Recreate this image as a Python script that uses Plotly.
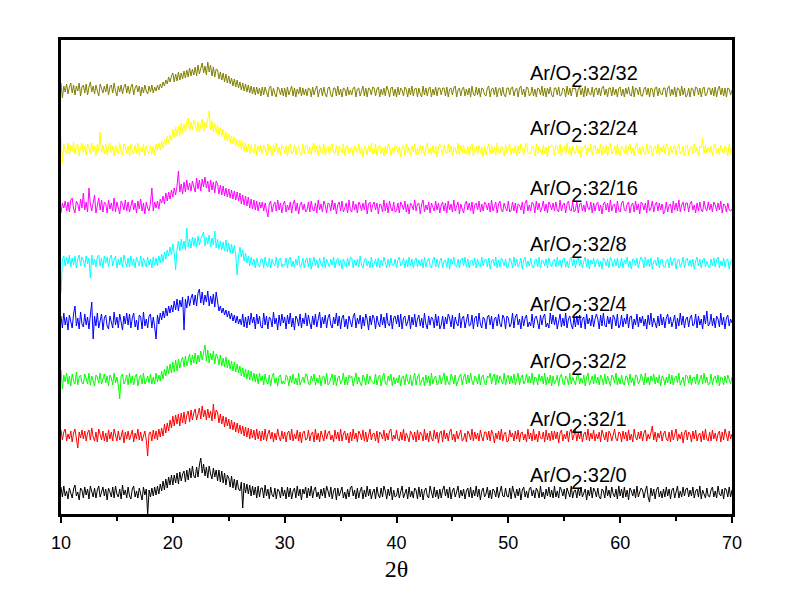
import plotly.graph_objects as go

# 2-theta sampling grid (degrees): 0.125 deg steps from 10 to 70
theta_start, theta_step, n_points = 10.0, 0.125, 481
two_theta = [round(theta_start + theta_step * i, 3) for i in range(n_points)]

labels = ["Ar/O2:32/0", "Ar/O2:32/1", "Ar/O2:32/2", "Ar/O2:32/4",
          "Ar/O2:32/8", "Ar/O2:32/16", "Ar/O2:32/24", "Ar/O2:32/32"]
colors = ["#000000", "#FF0000", "#00FF00", "#0000FF",
          "#00FFFF", "#FF00FF", "#FFFF00", "#808000"]
# vertical stacking offsets (a.u.)
offsets = [21, 78, 134, 193, 251, 307, 364, 422]

i_32_0 = [
    6, -4, 7, -3, 2, -6, 5, -1, -5, 4, 8, -3, 1, -7, 5, 3,
    -5, 6, -2, 4, -6, 7, 2, -4, 5, -5, 3, 7, -4, 0, 6, -3,
    4, -7, 5, 1, -4, 6, -5, 7, -1, -4, 4, -6, 8, -2, 3, -5,
    6, -3, -6, 4, 7, -4, 2, -5, 5, -1, -7, 6, -2, 4, -22, 3,
    -4, 5, -3, 6, -2, 7, -1, 9, 2, 12, 3, 14, 5, 16, 8, 18,
    8, 18, 10, 20, 9, 21, 12, 19, 22, 11, 23, 13, 25, 15, 27, 17,
    15, 26, 16, 28, 35, 20, 29, 17, 26, 15, 27, 19, 14, 25, 16, 23,
    12, 23, 11, 22, 10, 20, 8, 18, 15, 6, 17, 5, 14, 3, 13, 4,
    2, 11, -15, 10, 0, 9, -1, 8, -3, 7, -2, 6, -5, 7, -4, 5,
    5, -5, 8, -3, 4, -6, 6, -2, -4, 5, -6, 4, 2, -5, 6, -3,
    3, -6, 6, -4, 5, -6, 2, 5, -5, 7, -3, 4, -7, 4, -1, 6,
    -5, 5, -3, 7, -5, 3, 6, -4, 1, -6, 4, -3, 5, -5, 7, 2,
    -4, 6, -6, 2, 5, -7, 5, -3, 3, 6, -5, 1, -6, 4, -4, 5,
    7, -3, 3, -6, 5, -5, 2, 6, -6, 3, -4, 7, -3, 4, -6, 1,
    4, -6, 6, -2, -5, 5, -4, 7, 2, -6, 4, -3, 6, -7, 3, -4,
    -3, 5, -5, 3, 7, -5, -1, 4, -6, 6, -4, 2, -5, 5, 3, -6,
    6, -4, 4, -7, 2, 5, -3, -5, 7, -1, -5, 6, -4, 3, -6, 4,
    -5, 3, 7, -3, 4, -5, 6, -6, 2, 5, -4, 1, 7, -5, 3, -3,
    4, -6, 2, 5, -4, 6, -5, 3, -3, 7, -4, 4, -7, 2, 5, -4,
    -1, 6, -5, 3, -6, 4, 2, -4, 6, -5, 3, 7, -3, -4, 5, -3,
    -4, 5, -6, 7, 1, -5, 4, -3, 5, -7, 3, 6, -4, 2, -5, 4,
    6, -3, 3, -5, 5, 2, -5, 7, -4, 1, -6, 4, -3, 6, -4, 3,
    -5, 7, -4, 2, -5, 6, 3, -3, 4, -6, 5, -1, -4, 7, -5, 2,
    3, -5, 5, -3, 6, -4, 1, 4, -7, 3, -3, 6, -5, 5, 2, -4,
    5, -4, -6, 4, 2, -5, 7, -3, 3, -5, 6, -1, -4, 4, -6, 7,
    -3, 4, -5, 6, -4, 3, -7, 5, 2, -3, 4, -5, 7, -4, 1, 5,
    3, -5, 2, 7, -4, -9, 5, -3, 4, -6, 3, 6, -4, 2, -5, 4,
    -4, 6, -3, 4, -6, 3, 5, -5, 1, 7, -5, 2, -4, 6, -3, 4,
    5, -4, 3, -3, 6, -5, 2, 4, -4, 7, -6, 3, -1, -5, 5, -3,
    -4, 3, 6, -4, 2, -5, 7, -1, -3, 4, -6, 5, 3, -4, 6, -4,
    3]

i_32_1 = [
    6, -4, 4, 7, -5, 2, -3, 5, -6, 3, 7, -4, -12, 4, -2, 6,
    -3, 5, -5, 3, 6, -4, 8, -1, -5, 4, -6, 7, 2, -4, 5, -5,
    3, -6, 6, -3, 4, -5, 7, 2, -5, 5, -4, -1, 6, -7, 4, -3,
    5, -4, 2, 6, -6, 3, -3, 7, -4, 4, -5, -1, 5, -4, -20, 3,
    4, -5, 6, -3, 5, -4, 7, -1, 8, 0, 12, 3, 13, 5, 16, 8,
    20, 10, 21, 12, 22, 10, 23, 13, 24, 12, 21, 25, 14, 26, 16, 23,
    27, 16, 24, 28, 17, 30, 19, 26, 16, 27, 18, 25, 15, 32, 17, 26,
    24, 13, 22, 12, 20, 9, 19, 10, 17, 7, 16, 6, 14, 4, 13, 3,
    11, 2, 10, 0, 9, -1, 8, -3, 7, -2, 6, -4, 7, -3, 5, -5,
    5, -4, 7, -5, 2, 6, -3, 4, -6, 3, -4, 7, -1, -5, 5, -3,
    4, -6, 3, 5, -4, 7, -5, 2, -3, 6, -5, 4, -7, 3, 5, -4,
    -3, 6, -5, 2, 4, -6, 7, -4, 3, -6, 5, -1, -5, 6, -3, 3,
    5, -4, 1, -6, 6, -3, 4, -5, 7, -5, 2, 5, -4, 3, -7, 4,
    -5, 7, -3, 3, -6, 5, 2, -4, 6, -5, 4, -6, 1, 7, -4, 2,
    3, -5, 5, -7, 4, 2, -3, 6, -5, 3, -4, 5, 7, -5, 1, -3,
    6, -3, -5, 4, -4, 7, -5, 3, -1, -6, 5, 2, -4, 4, -6, 6,
    -4, 4, 2, -5, 7, -4, 3, -6, 5, -2, -5, 6, -3, 4, -7, 3,
    5, -6, 6, -3, 3, -5, 4, 7, -4, 2, -6, 5, -3, 3, 6, -5,
    -3, 3, -6, 5, 2, -4, 7, -5, 4, -3, 3, -5, 6, -1, -5, 4,
    4, -4, 5, -5, 6, 2, -7, 3, -3, 5, -4, 7, -5, 2, 4, -6,
    -5, 6, -1, 3, -5, 5, -3, 6, -6, 3, 4, -4, 2, -6, 7, -3,
    3, -5, 7, -4, 2, -6, 5, -2, -3, 4, -6, 6, -4, 3, -5, 5,
    -4, 5, -3, 4, -7, 3, 6, -5, 2, -3, 5, -6, 4, 7, -4, 1,
    6, -5, 3, -3, 5, -6, 2, 4, -4, 7, -5, 3, -3, 6, -5, 2,
    -3, 4, -6, 6, 1, -4, 4, -6, 5, 2, -5, 3, 7, -3, -5, 4,
    3, -6, 5, -3, 4, -5, 6, -4, 2, -6, 7, -1, -4, 4, -3, 5,
    -5, 3, 6, -5, 2, -3, 5, 10, -4, 4, -6, 3, -2, 5, -5, 2,
    5, -3, -5, 4, -6, 6, -4, 3, 7, -5, 2, -3, 4, -7, 3, 6,
    -4, 4, 2, -6, 5, -3, 6, -5, 1, 3, -6, 5, -4, 7, -3, -5,
    4, -5, 6, -3, 3, -5, 2, 5, -6, 4, -4, 7, -1, -5, 5, -3,
    2]

i_32_2 = [
    10, -9, 5, -2, 7, -4, 4, -6, 6, -1, -4, 8, -5, 3, 5, -3,
    -4, 6, 2, -4, 7, -5, 4, -2, -6, 5, 3, -3, 7, -4, 2, 6,
    -3, 4, -6, 5, 2, -5, 7, -3, 3, -5, -19, 4, 6, -4, -1, 5,
    -5, 7, -3, 4, -5, 3, 6, -6, 2, 5, -4, 7, -4, -1, 4, -3,
    6, -4, 3, -4, 7, -2, 5, -1, 9, 1, 11, 4, 14, 6, 16, 7,
    18, 8, 20, 9, 21, 12, 19, 23, 13, 24, 14, 22, 26, 15, 25, 17,
    27, 16, 25, 18, 29, 20, 28, 35, 19, 30, 17, 27, 20, 29, 16, 26,
    23, 15, 25, 14, 22, 13, 23, 12, 20, 11, 19, 9, 18, 8, 16, 7,
    14, 4, 12, 3, 11, 1, 10, 0, 9, -1, 7, -2, 6, -4, 7, -1,
    4, -5, 6, -2, -4, 5, -6, 3, 7, -3, 2, -6, 4, 5, -4, -1,
    -4, 5, 3, -6, 4, -3, 6, -4, 2, -5, 7, -5, -1, 3, -3, 6,
    5, -4, -5, 4, -1, 6, -5, 2, -3, 5, -6, 3, 4, -4, 7, -5,
    -3, 3, 6, -5, 5, -6, 2, 4, -4, -1, 7, -5, 3, -5, 5, 2,
    4, -6, 2, 7, -4, 3, -3, -6, 5, 2, -5, 6, -4, 4, -1, -3,
    -4, 6, -5, 2, 5, -6, 3, 7, -3, -5, 4, -1, 6, -6, 3, -4,
    2, -3, 5, -6, 3, 4, -5, 6, -1, -4, 5, -6, 2, 7, -5, 3,
    6, -5, -1, 3, -6, 5, -3, 4, -6, 7, -4, 2, 4, -5, -3, 5,
    -4, 2, 7, -5, 4, -3, -5, 6, 3, -4, 5, -6, -1, 4, 6, -5,
    3, 6, -4, 5, -3, 7, -1, -5, 4, 2, -4, 6, -5, 3, 5, -3,
    -5, 4, 2, 7, -4, 3, 6, -5, 5, -3, 4, -1, -4, 7, -5, 2,
    5, -4, 4, -3, 6, -5, 3, 7, -5, 2, 5, -4, -1, 6, -3, 4,
    -3, 7, -5, 3, 2, -5, 6, -1, 4, -4, 7, -5, 3, -3, 5, -6,
    4, -4, -1, 5, -6, 3, 6, -3, -5, 4, 2, -5, 7, -4, 3, -1,
    -5, 4, 6, -4, 2, -3, 5, -6, 3, 7, -5, -1, 4, -4, 6, -3,
    3, -5, 5, 2, -5, 6, -4, 4, -1, -6, 5, 3, -3, 7, -5, 2,
    -4, 5, -3, -5, 4, 3, -5, 6, -3, 2, -6, 5, 4, -4, -1, 6,
    2, -5, 7, -3, 3, -5, 4, -1, 6, -4, 3, -3, 5, -6, 4, 2,
    -5, 3, -3, 6, -4, 5, -5, 2, 4, -3, 7, -5, -1, 3, -6, 5,
    4, -3, 5, -5, 2, 3, -4, 6, -5, -1, 5, -4, 7, -3, 3, -5,
    -4, 6, -5, 2, 4, -3, 5, -6, 3, 2, -5, 4, -3, 5, -1, -4,
    3]

i_32_4 = [
    5, -7, 8, -4, 4, -9, 6, -1, -7, 7, 15, -5, 3, -8, 9, -3,
    -6, 7, -4, 4, -8, 6, 19, -18, 5, -5, 8, -7, 2, 7, -9, 3,
    6, -5, -8, 5, -1, -7, 9, -4, 4, -7, 7, -2, -9, 5, -3, 8,
    -4, 7, -7, 3, 8, -6, 1, -9, 6, 4, -8, 9, -5, 2, -7, 5,
    7, -7, 4, -6, -18, 6, -3, 8, 1, 10, 3, 13, 5, 15, 8, 16,
    9, 20, 11, 22, 10, 21, 14, 24, -9, 22, 13, 25, 15, 23, 27, 16,
    26, 15, 28, 32, 18, 29, 16, 26, 19, 30, 15, 25, 17, 27, 14, 29,
    18, 10, 15, 8, 13, 6, 11, 4, 10, 2, 8, 0, 6, -2, 5, -3,
    2, -4, 7, -6, 4, -7, 5, -4, 8, -2, 4, -8, 7, -3, 5, -6,
    -7, 8, -4, 5, -8, 4, 2, -6, 9, -3, 3, -9, 6, -5, 7, -2,
    4, -8, 6, -3, 8, -6, 3, -9, 5, 2, -5, 7, -7, 3, -3, 8,
    -5, 6, -2, -8, 5, -4, 7, -6, 2, 9, -7, 4, -3, 6, -7, 3,
    7, -4, -7, 4, -3, 8, -5, 5, -8, 3, 6, -6, 2, -8, 5, -2,
    -6, 4, 8, -7, 3, -3, 6, -8, 4, -5, 7, 2, -9, 5, -4, 6,
    3, -8, 5, -2, -6, 7, -4, 4, -7, 8, -3, -5, 6, -8, 3, 5,
    -3, 6, -6, 7, -8, 3, 5, -5, -1, 6, -8, 4, -4, 7, -6, 2,
    6, -5, 3, -7, 8, -3, -8, 5, -4, 4, 2, -7, 7, -5, 5, -8,
    -4, 5, -8, 4, -3, 7, 3, -6, 6, -8, 4, -2, -5, 8, -7, 3,
    5, -7, 2, 7, -5, -4, 6, -8, 3, 5, -6, 8, -3, -7, 4, 2,
    -8, 4, 6, -4, 5, -8, 2, 4, -5, 7, -3, -6, 6, 3, -8, 5,
    3, -6, -3, 8, -7, 4, 7, -4, 2, -8, 5, -5, 3, 6, -6, -1,
    -5, 7, -7, 3, 5, -3, -8, 6, -4, 4, 7, -6, -2, -7, 8, -3,
    6, -4, 4, -8, 2, 7, -6, 3, -5, 8, -7, 2, 5, -4, -8, 4,
    -6, 5, -4, 6, -7, 2, 4, -8, 7, -3, 3, -5, 6, -6, 2, 7,
    2, -8, 6, -5, 8, -4, -6, 5, -3, 4, -8, 6, 3, -5, 7, -7,
    -4, 6, -6, 3, -3, 7, -7, 4, 5, -8, 2, -4, 7, -6, 4, -2,
    5, -5, 2, -8, 6, -4, 8, -6, 3, -3, -7, 5, -5, 7, -4, 4,
    -7, 3, 7, -3, 4, -6, 2, 6, -8, 3, -5, 8, -4, 5, -7, 2,
    4, -6, 3, 6, -5, -3, 7, -7, 5, -4, 2, -8, 6, -3, 10, -5,
    -3, 7, -5, 3, -7, 5, 2, -6, 8, -4, 4, -8, 3, 6, -5, 2,
    -2]

i_32_8 = [
    -30, 4, 7, -3, 6, -1, 8, -4, 5, -2, 7, -5, 4, 8, -3, 6,
    3, -4, 7, -1, 5, -15, 8, -2, 4, -4, 6, 8, -3, 5, -5, 7,
    0, 6, -4, 5, 8, -3, 3, 7, -5, 4, -2, 6, -4, 8, 1, -4,
    5, -4, 7, -2, 4, -5, 6, 1, -3, 7, -4, 5, -1, -4, 6, -2,
    4, -5, 6, -2, 5, -3, 7, 0, 9, 1, 11, 4, 13, 7, 16, 8,
    19, 10, -7, 14, 22, 12, 24, 14, 22, 13, 35, 16, 24, 15, 26, 17,
    25, 16, 27, 18, 24, 28, 31, 17, 26, 19, 28, 16, 25, 18, 32, 15,
    24, 14, 22, 13, 21, 12, 23, 11, 20, 10, 19, 9, 18, 8, -12, 7,
    16, 6, 13, 2, 10, 0, 7, -3, 6, -2, 4, -5, 5, -1, -4, 4,
    4, -5, 6, -2, -4, 5, -5, 4, -1, -3, 6, -5, 3, 5, -4, -1,
    -3, 5, -5, 3, 6, -4, 2, -5, 4, -2, 7, -4, -3, 5, -5, 3,
    5, -4, 5, -6, 2, 6, -3, 3, -5, 5, -1, -4, 6, -5, 4, -1,
    -4, 4, -2, 6, -5, 2, 5, -3, 3, -6, 4, -1, -4, 5, -3, 6,
    5, -5, 3, -3, 4, -4, 7, -2, -5, 3, 5, -3, 2, -5, 6, -4,
    -1, 4, -4, 5, -5, 3, -3, 6, 1, -5, 4, -4, 5, -2, -3, 4,
    -5, 3, 6, -3, -1, 5, -5, 3, -4, 6, -3, 4, -5, 2, 5, -4,
    3, -3, 4, -5, 6, -4, 2, 5, -3, -5, 3, 6, -4, 4, -5, 2,
    5, -5, 2, 3, -4, 5, -6, 4, -1, 6, -3, -4, 4, -5, 3, 5,
    -3, 6, -4, 4, -5, 2, 3, -3, 5, -5, 4, -2, -4, 6, -3, 3,
    4, -4, 5, -6, 2, 4, -3, 6, -5, 3, -4, 5, 2, -3, 4, -5,
    -4, 5, 2, -5, 6, -3, 4, -4, -1, 5, -6, 3, 6, -4, 2, -3,
    5, -3, -5, 3, 4, -4, 6, -5, 3, 2, -3, 4, -5, 5, -1, -4,
    2, 4, -4, 6, -3, 3, -5, 4, 5, -4, 2, -5, 3, 6, -3, 4,
    -5, 3, 5, -3, 3, -5, 2, 6, -4, 4, -6, 3, -1, 5, -4, 2,
    4, -4, 2, -6, 5, 3, -3, 4, -5, 6, 2, -4, 4, -3, 5, -5,
    -3, 5, -5, 3, -1, 6, -4, 2, -6, 4, 3, -3, 5, -5, 2, 6,
    3, -5, 6, -3, 4, -4, 5, -6, 2, 3, -3, 6, -5, 3, 4, -4,
    -4, 2, 4, -5, 6, -3, 3, 5, -6, 2, 4, -4, -1, 6, -5, 3,
    5, -3, 3, -4, 4, -6, 2, 6, -3, 4, -5, 3, 5, -4, 2, -3,
    -5, 4, -3, 5, -4, 3, 6, -5, 2, -3, 5, -4, 3, 4, -6, 2,
    3]

i_32_16 = [
    -6, 4, -1, 6, -4, 5, -5, 7, 9, -2, -6, 6, 3, -4, 8, -1,
    14, -3, 5, -5, 19, 3, -4, 6, 12, -6, 4, 9, -3, 7, -5, 5,
    3, -6, 7, -2, 4, -4, 9, -5, 5, -1, -7, 6, 3, -3, 7, -4,
    5, -5, 2, 7, -3, 4, -6, 6, -2, 8, -4, 4, -7, 5, -1, -4,
    4, 19, -4, 5, -1, 6, -2, 8, 4, 11, 3, 14, 6, 15, 8, 17,
    10, 19, 12, 21, 36, 15, 23, 13, 25, 15, 27, 17, 24, 16, 26, 19,
    15, 29, 18, 27, 16, 28, 20, 30, 19, 26, 15, 27, 17, 25, 14, 26,
    23, 13, 22, 12, 21, 11, 19, 10, 18, 9, 17, 8, 16, 7, 15, 6,
    14, 3, 12, 2, 11, 1, 10, -1, 8, -2, 7, -3, 6, -4, 5, -1,
    5, -4, 4, -3, -10, 3, 6, -5, 2, 5, -4, 7, -3, 4, -6, 3,
    6, -5, 2, -3, 5, -6, 3, 7, -4, 4, -7, 2, 5, -3, 3, -5,
    -3, 5, -5, 6, -2, -4, 4, -6, 7, -3, 3, -5, 6, 2, -6, 4,
    3, -4, 7, -3, 4, -7, 2, 5, -4, 6, -5, -1, 4, -6, 7, -3,
    -5, 6, -3, 3, -6, 5, 2, -4, 4, -3, 7, -7, 3, 5, -5, 2,
    5, -3, 4, -7, 3, 2, -5, 7, -4, 4, -6, 6, -1, -4, 5, -5,
    -4, 4, -6, 5, 2, -3, 6, -5, 3, -7, 4, 2, -3, 7, -4, 3,
    4, -7, 3, 7, -5, 2, -3, 5, -6, 4, -1, -4, 6, -3, 4, -6,
    2, 5, -4, 4, -6, 6, -3, 3, -5, 7, -4, 2, 5, -7, 3, -2,
    -6, 3, 6, -3, 4, -4, 5, -7, 2, 4, -3, 6, -5, 3, -4, 5,
    3, -3, 4, -5, 7, -4, 2, 5, -6, 3, 6, -3, -5, 4, -1, -4,
    6, -5, -3, 5, -4, 4, -6, 3, 2, -3, 5, -7, 4, 7, -4, 2,
    -4, 5, 3, -6, 6, -3, 4, -5, -1, 6, -4, 3, -6, 5, 2, -3,
    4, -4, 5, -3, -5, 7, -4, 2, 4, -6, 3, 6, -3, -4, 5, -5,
    -3, 6, -6, 3, 4, -4, 2, -5, 6, -1, -3, 5, -6, 4, -4, 3,
    5, -4, 2, -7, 3, 5, -3, 4, -5, 7, -4, 2, 3, -6, 6, -3,
    -5, 4, 6, -3, -4, 3, 5, -6, 2, 4, -5, 6, -3, 3, -7, 5,
    3, -3, 4, -6, 7, -4, -1, 6, -5, 2, 5, -4, 4, -3, 3, -7,
    -4, 5, -5, 2, 3, -6, 6, -3, 4, -4, 7, -5, 2, 5, -4, 4,
    4, -5, 3, 6, -3, 2, -6, 4, -4, 5, -3, -5, 6, -1, -4, 5,
    -3, 3, -5, 5, 2, -4, 4, -3, 6, -6, 3, 2, -5, 4, -3, -4,
    -2]

i_32_24 = [
    13, -13, 6, -1, -4, 7, -5, 5, -1, 8, -4, 4, 6, -6, 3, 7,
    -3, 5, -5, 6, 3, -4, 7, -2, 4, -6, 6, -1, 18, -3, 5, -4,
    6, -5, 3, 7, -3, 4, -6, 5, -1, -4, 7, -2, -5, 6, 3, -3,
    4, -6, 6, -1, -4, 5, -3, 7, -5, 3, -2, 6, -6, 4, -1, -4,
    5, -4, 4, -5, 6, -1, 7, 0, 9, 2, 11, 5, 14, 7, 15, 9,
    21, 12, 23, 14, 24, 15, 27, 17, 26, 18, 29, 32, 19, 28, 20, 30,
    26, 19, 28, 18, 25, 31, 18, 28, 22, 33, 39, 20, 29, 18, 27, 17,
    25, 15, 23, 13, 21, 11, 18, 9, 16, 7, 14, 6, 13, 4, 11, 3,
    10, 1, 8, -1, 7, -2, 6, -4, 5, -1, -3, 6, -5, 4, -2, 5,
    -4, 5, 2, -5, 6, -3, 4, -6, 5, -2, 7, -4, 3, -5, 5, 3,
    -3, 4, -6, 3, 6, -4, -2, 5, -5, 3, 4, -3, -6, 6, -4, 4,
    5, -4, 3, -5, 4, 7, -3, 4, -6, 5, -2, -4, 6, -5, 2, 4,
    -5, 3, 6, -3, -4, 5, -6, 4, 2, -3, 6, -5, 3, 5, -4, -1,
    3, -6, 4, 2, -3, 6, -4, 3, -7, 4, 2, -5, 5, -2, 7, -4,
    -3, 6, -5, 3, 5, -4, 2, -6, 4, -3, 6, 3, -5, 2, -4, 5,
    4, -3, 3, -7, 2, 5, -5, 6, -3, 3, -6, 4, -2, 6, -5, 2,
    -4, 5, -3, 4, -6, 3, 7, -4, 2, -5, 5, -3, 4, -7, 3, 6,
    2, -5, 5, -2, -4, 6, -3, 4, -6, 3, 2, -4, 7, -5, 5, -3,
    5, -4, -3, 4, -5, 3, 6, -6, 2, 4, -4, 5, -3, 3, -7, 4,
    -5, 2, 6, -4, 5, -3, 3, -5, 7, -2, -4, 4, 2, -6, 5, -3,
    3, 6, -5, 2, -3, 5, -6, 4, -4, 6, 2, -5, 3, 7, -3, -4,
    -3, 4, 2, -6, 6, -4, 4, -2, -5, 5, -3, 3, -7, 4, 2, 5,
    4, -5, 5, 3, -3, 6, -6, 2, 4, -4, 7, -3, 3, -6, 4, -2,
    -4, 5, -3, 4, -7, 3, 2, 5, -5, 3, -3, 6, -5, 2, 5, -4,
    2, -4, 6, -5, 4, -3, 5, -6, 3, 7, -4, -1, 4, -5, 6, -3,
    -6, 4, 2, -3, 5, -5, 3, 6, -4, 2, -6, 4, 7, -3, 3, -5,
    4, -3, -5, 6, -4, 3, 5, -6, 2, 4, -3, 6, -5, 3, -2, 5,
    -4, 6, 3, -6, 4, -3, 2, 5, -5, 3, 6, -4, -3, 4, -6, 3,
    5, -5, 2, 4, -4, 6, -3, 3, -6, 4, 2, 12, -4, 5, -3, 3,
    -3, 4, -6, 3, 6, -4, 2, -5, 5, -1, -4, 4, 2, -6, 6, -3,
    3]

i_32_32 = [
    9, -6, 6, 0, 8, -2, 5, 9, -1, 7, -3, 6, 1, 9, -4, 5,
    7, -1, 8, -3, 5, 10, 0, 6, -2, 7, 1, -4, 8, 2, -1, 6,
    0, 8, -3, 5, 7, -1, 9, 1, -4, 6, 0, 7, -2, 5, 8, -1,
    6, -2, 5, 8, -3, 4, 7, 0, 6, -4, 5, -1, 7, 1, -2, 6,
    0, 7, -1, 5, 1, 7, 2, 8, 4, 10, 6, 12, 8, 15, 10, 16,
    19, 10, 18, 11, 20, 12, 19, 13, 21, 14, 22, 15, 24, 16, 23, 17,
    25, 16, 27, 18, 24, 29, 19, 26, 17, 30, 20, 27, 16, 25, 15, 23,
    22, 13, 20, 12, 19, 10, 18, 9, 16, 8, 14, 6, 13, 5, 12, 4,
    10, 2, 9, 1, 8, 0, 7, -1, 6, -2, 5, -3, 5, -2, 4, -4,
    5, -3, 5, -1, -5, 4, 6, -4, 4, -2, -5, 5, 3, -3, 4, -4,
    4, -5, 5, -3, 3, 6, -4, 4, -5, 3, -2, 5, -4, 4, -3, 3,
    -4, 4, 3, -5, 5, -3, 3, 6, -5, 2, 4, -4, 5, -2, -5, 4,
    5, -3, -5, 4, 4, -4, 6, -3, 3, -5, 4, 3, -4, 5, -3, 2,
    -3, 4, 5, -5, 3, 4, -4, 2, 6, -4, 4, -5, 4, 3, -3, 5,
    4, -4, 3, 5, -5, 3, -3, 4, -4, 6, 2, -5, 4, 5, -4, 3,
    -5, 5, -3, 4, 2, -4, 5, 3, -5, 4, -3, 6, -4, 3, 4, -5,
    4, -2, -5, 6, -3, 4, -4, 3, 5, -5, 3, -3, 5, -4, 4, 4,
    -3, 4, 4, -4, 5, -5, 3, 4, -3, 4, 6, -5, 2, 4, -4, 3,
    5, -4, 3, -3, 4, -5, 6, -2, -4, 5, -3, 4, -5, 4, 3, -3,
    -4, 4, 6, -5, 3, 4, -3, 5, -5, 3, 4, -4, 5, -3, -5, 4,
    4, -3, 4, 5, -4, 2, 4, -5, 4, 6, -3, 3, -5, 5, 4, -4,
    -2, 5, -4, 3, -5, 4, 3, -3, 6, -4, 4, -5, 4, -2, 5, -3,
    -5, 4, 4, -3, 5, -4, -3, 4, 3, -5, 6, -3, 4, -4, 4, 3,
    4, -5, 3, 5, -3, 4, -5, 6, -4, 4, -2, -3, 5, -5, 3, 4,
    -3, 4, -4, 4, 6, -3, 3, -5, 4, 4, -4, 5, -3, 3, -5, 4,
    5, -4, 3, -5, 4, -2, 5, -3, -4, 6, -5, 4, 3, -3, 5, -4,
    -4, 3, 5, -3, 4, -5, 4, 3, -5, 4, 5, -4, 4, -2, -3, 4,
    4, -5, 4, 6, -4, 3, -3, 5, -5, 4, 3, -4, 6, -3, 4, -5,
    -3, 4, -5, 4, 3, -4, 5, 4, -3, 4, -5, 3, 5, -4, -2, 4,
    4, -3, 4, -4, 5, -5, 3, 6, -3, 4, -4, 4, -5, 4, 3, -3,
    2]

series = [i_32_0, i_32_1, i_32_2, i_32_4, i_32_8, i_32_16, i_32_24, i_32_32]
label_y = [36, 92, 150, 207, 267, 323, 383, 438]
label_x = 51.75

fig = go.Figure()
for vals, off, col, lab in zip(series, offsets, colors, labels):
    fig.add_trace(go.Scatter(
        x=two_theta[:len(vals)], y=[v + off for v in vals], mode="lines",
        line=dict(color=col, width=1), name=lab, showlegend=False,
        hoverinfo="skip"))

for lab, ly in zip(labels, label_y):
    head, tail = lab.split("2:")
    txt = (head + '<sub><sub><span style="font-size:20px">2</span></sub></sub>:'
           + tail)
    fig.add_annotation(x=label_x, y=ly, xref="x", yref="y", text=txt,
                       showarrow=False, xanchor="left", yanchor="middle",
                       font=dict(family="Liberation Sans, Arial", size=20,
                                 color="#000000"))

fig.update_layout(
    width=792, height=604,
    margin=dict(l=53, r=68, t=32, b=98),
    paper_bgcolor="white", plot_bgcolor="white",
    xaxis=dict(range=[10, 70], tickmode="array",
               tickvals=[10, 20, 30, 40, 50, 60, 70],
               ticktext=["10", "20", "30", "40", "50", "60", "70"],
               ticks="outside", ticklen=6, tickwidth=2, tickcolor="black",
               ticklabelstandoff=5,
               minor=dict(tickvals=[15, 25, 35, 45, 55, 65], ticks="outside",
                          ticklen=4, tickwidth=2, tickcolor="black"),
               showline=True, linewidth=2.5, linecolor="black", mirror=True,
               showgrid=False, zeroline=False,
               tickfont=dict(family="Liberation Sans, Arial", size=18,
                             color="black"),
               title=dict(text="2θ", standoff=8,
                          font=dict(family="Liberation Serif, Times New Roman",
                                    size=24, color="black"))),
    yaxis=dict(range=[0, 474], showticklabels=False, ticks="",
               showline=True, linewidth=2.5, linecolor="black", mirror=True,
               showgrid=False, zeroline=False),
)

fig.write_html("out.html")
